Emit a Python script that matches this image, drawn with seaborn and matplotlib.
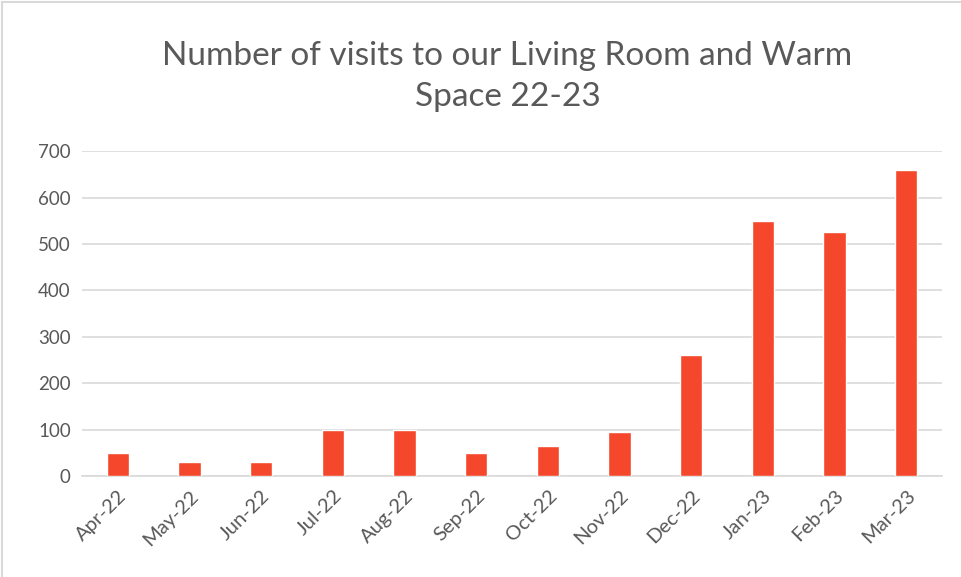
import matplotlib
matplotlib.use("Agg")
import matplotlib.pyplot as plt
import matplotlib.patches as mpatches
import seaborn as sns
import numpy as np
import pandas as pd

months = ["Apr-22", "May-22", "Jun-22", "Jul-22", "Aug-22", "Sep-22",
          "Oct-22", "Nov-22", "Dec-22", "Jan-23", "Feb-23", "Mar-23"]
visits = [50, 30, 30, 100, 100, 50, 65, 95, 260, 550, 525, 660]

sns.set_theme(style="white")
plt.rcParams["font.family"] = ["Lato", "DejaVu Sans"]

df = pd.DataFrame({"Month": months, "Visits": visits})

fig = plt.figure(figsize=(9.61, 5.77), dpi=100)
ax = fig.add_axes([0.0853, 0.175, 0.895, 0.563])

sns.barplot(data=df, x="Month", y="Visits", color="#F4472B", width=0.31,
            saturation=1, ax=ax, zorder=3)

ax.set_ylim(0, 700)
ax.set_yticks(range(0, 701, 100))
ax.set_xlim(-0.5, len(months) - 0.5)
ax.yaxis.grid(True, color="#D9D9D9", linewidth=1.2, zorder=0)
ax.set_axisbelow(True)
for s in ["top", "right", "left"]:
    ax.spines[s].set_visible(False)
ax.spines["bottom"].set_color("#D9D9D9")
ax.spines["bottom"].set_linewidth(1.2)

ax.set_xlabel("")
ax.set_ylabel("")
ax.tick_params(axis="y", length=0, labelsize=13.5, labelcolor="#595959", pad=8)
ax.tick_params(axis="x", length=0, labelsize=14.5, labelcolor="#595959", pad=8)
plt.setp(ax.get_xticklabels(), rotation=45, ha="right", rotation_mode="anchor")

# minor ticks between categories, as in Excel
ax.set_xticks(np.arange(-0.5, len(months), 1), minor=True)
ax.tick_params(axis="x", which="minor", length=6, color="#D9D9D9", width=1.2)

fig.text(0.528, 0.868, "Number of visits to our Living Room and Warm\nSpace 22-23",
         ha="center", va="center", fontsize=24, color="#595959", linespacing=1.45)

fig.patches.append(mpatches.Rectangle((0.002, -0.01), 1.2, 1.007, transform=fig.transFigure,
                                      fill=False, edgecolor="#D9D9D9", linewidth=1.5))

fig.savefig("out.png", dpi=100)
